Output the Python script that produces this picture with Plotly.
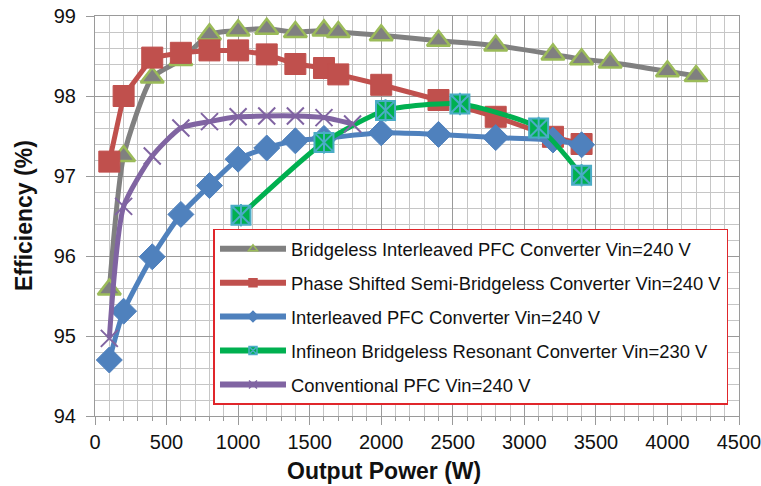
import plotly.graph_objects as go

# Output power (W) and efficiency (%) for each converter
bil_p = [100, 200, 400, 600, 800, 1000, 1200, 1400, 1600, 1700, 2000, 2400, 2800, 3200, 3400, 3600, 4000, 4200]
bil_eff = [95.58, 97.25, 98.23, 98.45, 98.77, 98.82, 98.84, 98.8, 98.82, 98.8, 98.76, 98.69, 98.63, 98.52, 98.46, 98.42, 98.31, 98.25]

ps_p = [100, 200, 400, 600, 800, 1000, 1200, 1400, 1600, 1700, 2000, 2400, 2800, 3200, 3400]
ps_eff = [97.18, 98.0, 98.48, 98.54, 98.57, 98.57, 98.52, 98.4, 98.35, 98.27, 98.14, 97.95, 97.74, 97.49, 97.4]

il_p = [100, 200, 400, 600, 800, 1000, 1200, 1400, 1600, 2000, 2400, 2800, 3200, 3400]
il_eff = [94.7, 95.31, 95.99, 96.52, 96.88, 97.21, 97.35, 97.44, 97.47, 97.54, 97.52, 97.48, 97.45, 97.39]

inf_p = [1020, 1600, 2030, 2550, 3100, 3400]
inf_eff = [96.51, 97.42, 97.82, 97.9, 97.6, 97.01]

conv_p = [100, 200, 400, 600, 800, 1000, 1200, 1400, 1600, 1800]
conv_eff = [94.97, 96.62, 97.25, 97.6, 97.68, 97.74, 97.75, 97.75, 97.73, 97.65]

names = [
    "Bridgeless Interleaved PFC Converter Vin=240 V",
    "Phase Shifted Semi-Bridgeless Converter Vin=240 V",
    "Interleaved PFC Converter Vin=240 V",
    "Infineon Bridgeless Resonant Converter Vin=230 V",
    "Conventional PFC Vin=240 V",
]

# (x, y, line colour, smoothed?, symbol, size, fill, outline colour, outline width)
series = [
    (bil_p, bil_eff, "#808080", True, "triangle-up", 20, "#808080", "#9BBB59", 2.5),
    (ps_p, ps_eff, "#C0504D", False, "square", 21, "#C0504D", "#C0504D", 1),
    (il_p, il_eff, "#4F81BD", True, "diamond", 20, "#4F81BD", "#4F81BD", 1),
    (inf_p, inf_eff, "#00B050", True, "square-x", 19, "#00B050", "#4BACC6", 2),
    (conv_p, conv_eff, "#8064A2", True, "x-thin-open", 17, "#8064A2", "#8064A2", 2),
]

fig = go.Figure()

for i, (xs, ys, lc, smooth, sym, size, fill, oc, ow) in enumerate(series):
    line = dict(color=lc, width=5)
    if smooth:
        line.update(shape="spline", smoothing=0.6)
    fig.add_trace(go.Scatter(
        x=xs, y=ys, name=names[i], mode="lines+markers", showlegend=False,
        line=line,
        marker=dict(symbol=sym, size=size, color=fill, line=dict(color=oc, width=ow)),
    ))
    if sym == "square-x":
        # vertical stroke completing the star inside the green markers
        fig.add_trace(go.Scatter(
            x=xs, y=ys, mode="markers", showlegend=False, hoverinfo="skip",
            marker=dict(symbol="line-ns-open", size=16, color=oc,
                        line=dict(color=oc, width=2)),
        ))

# legend entries with small marker glyphs
for i, (xs, ys, lc, smooth, sym, size, fill, oc, ow) in enumerate(series):
    fig.add_trace(go.Scatter(
        x=[None], y=[None], name=names[i], mode="lines+markers",
        legendgroup=f"g{i}",
        line=dict(color=lc, width=6),
        marker=dict(symbol=sym, size=8, color=fill, line=dict(color=oc, width=1.5)),
    ))

font_family = "Liberation Sans, Arial, sans-serif"

fig.update_layout(
    width=761, height=486,
    margin=dict(l=95, r=22, t=16, b=70),
    paper_bgcolor="white", plot_bgcolor="white",
    font=dict(family=font_family, color="#111111"),
    showlegend=True,
    legend=dict(
        x=0.184, y=0.468, xanchor="left", yanchor="top",
        bgcolor="white", bordercolor="#E0262B", borderwidth=1.5,
        font=dict(size=18.4, family=font_family, color="#111111"),
        traceorder="grouped", tracegroupgap=7, itemwidth=66,
    ),
    annotations=[
        dict(text="<b>Output Power (W)</b>", xref="paper", yref="paper",
             x=(384 - 95) / 644, y=-(471 - 416) / 400, xanchor="center", yanchor="middle",
             showarrow=False, font=dict(size=23, family=font_family, color="#111111")),
        dict(text="<b>Efficiency (%)</b>", xref="paper", yref="paper",
             x=-(95 - 24) / 644, y=0.5, xanchor="center", yanchor="middle",
             textangle=-90, showarrow=False,
             font=dict(size=23, family=font_family, color="#111111")),
    ],
)

fig.update_xaxes(
    range=[0, 4500], dtick=500, tick0=0,
    showgrid=True, gridcolor="#9a9a9a", gridwidth=1,
    minor=dict(dtick=100, showgrid=True, gridcolor="#c6c6c6", gridwidth=1,
               ticks="outside", ticklen=4, tickcolor="#9a9a9a"),
    ticks="outside", ticklen=8, tickcolor="#9a9a9a",
    showline=True, linecolor="#9a9a9a", mirror=True, zeroline=False,
    tickfont=dict(size=20), ticklabeloverflow="allow", automargin=False,
)
fig.update_yaxes(
    range=[94, 99], dtick=1, tick0=94,
    showgrid=True, gridcolor="#9a9a9a", gridwidth=1,
    minor=dict(dtick=0.2, showgrid=True, gridcolor="#c6c6c6", gridwidth=1),
    ticks="outside", ticklen=8, tickcolor="#9a9a9a",
    showline=True, linecolor="#9a9a9a", mirror=True, zeroline=False,
    tickfont=dict(size=20), ticklabelstandoff=6, ticklabeloverflow="allow",
    automargin=False,
)

fig.write_html("out.html")
